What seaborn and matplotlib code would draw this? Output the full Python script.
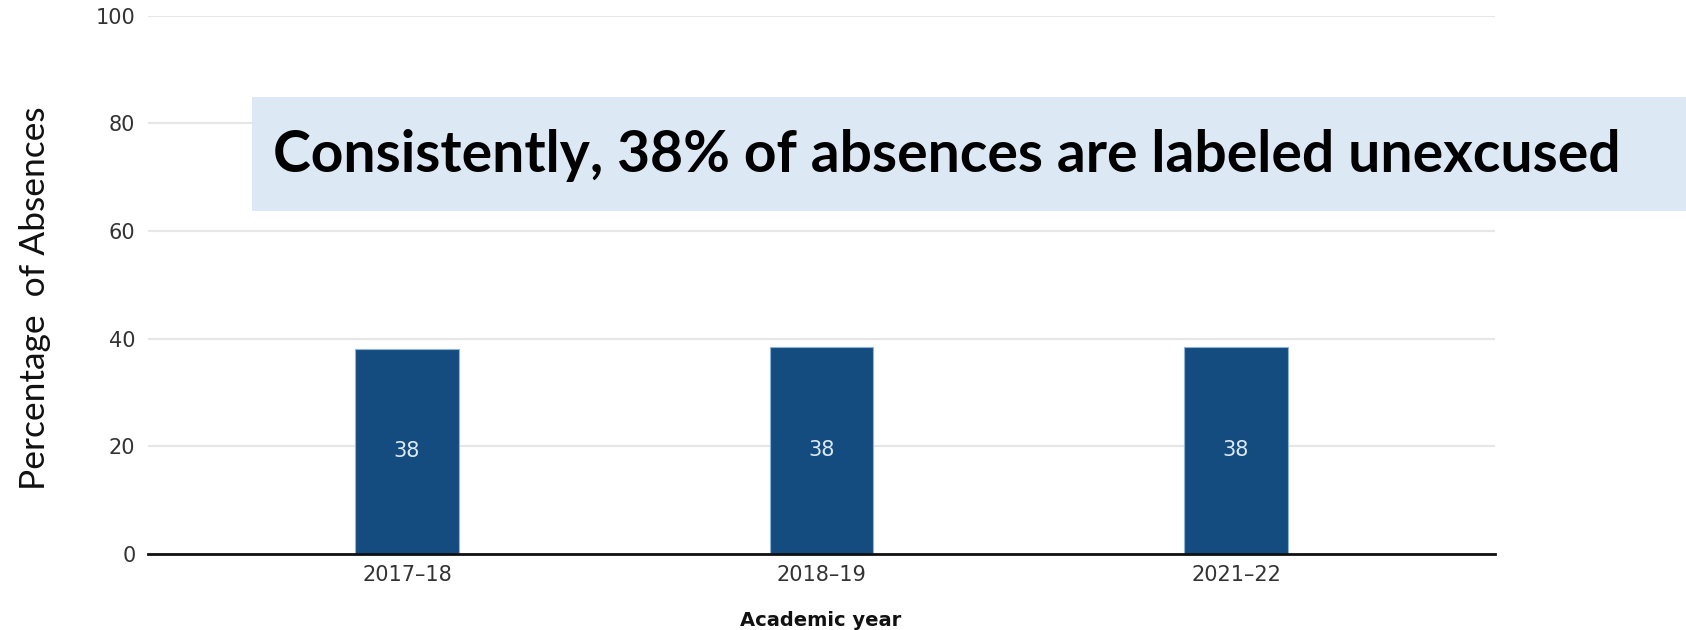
import matplotlib
matplotlib.use("Agg")
import matplotlib.pyplot as plt
import seaborn as sns
import pandas as pd
from matplotlib.patches import Rectangle

years = ["2017–18", "2018–19", "2021–22"]
values = [38.1, 38.5, 38.5]
value_labels = ["38", "38", "38"]
yticks = [0, 20, 40, 60, 80, 100]
title_text = "Consistently, 38% of absences are labeled unexcused"
ylabel_text = "Percentage  of Absences"
xlabel_text = "Academic year"

sns.set_theme(style="white")
plt.rcParams["font.family"] = ["DejaVu Sans"]

df = pd.DataFrame({"year": years, "value": values})

fig = plt.figure(figsize=(16.86, 6.30), dpi=100)
ax = fig.add_axes([148/1686, 1-554/630, (1495-148)/1686, (554-15.5)/630])

sns.barplot(data=df, x="year", y="value", color="#154c80", width=0.25,
            saturation=1, edgecolor="#8fb3d6", linewidth=0.8, ax=ax)

ax.set_ylim(0, 100)
ax.set_xlim(-0.625, 2.625)
ax.set_yticks(yticks)
ax.yaxis.grid(True, color="#e6e6e6", linewidth=1.5)
ax.set_axisbelow(True)
for s in ["top", "right", "left"]:
    ax.spines[s].set_visible(False)
ax.spines["bottom"].set_color("#111111")
ax.spines["bottom"].set_linewidth(2)
ax.tick_params(axis="both", length=0, labelsize=15, labelcolor="#333333")
ax.tick_params(axis="x", pad=8)
ax.tick_params(axis="y", pad=9)

ax.bar_label(ax.containers[0], labels=value_labels, label_type="center",
             color="#dce8f4", fontsize=15)

ax.set_xlabel(xlabel_text, fontsize=14, fontweight="bold", color="#111111")
ax.xaxis.set_label_coords(0.499, -0.123)
ax.xaxis.label.set_va("center")
ax.set_ylabel(ylabel_text, fontsize=25.5, family=["Lato", "DejaVu Sans"], color="#111111")
ax.yaxis.set_label_coords(-0.084, 0.475)
ax.yaxis.label.set_va("center")

fig.patches.append(Rectangle((252/1686, 1-211/630), 1-252/1686, 114/630,
                             transform=fig.transFigure, facecolor="#dce8f4",
                             edgecolor="none", zorder=5))
fig.text(273/1686, 1-155/630, title_text, fontsize=41, fontweight="bold",
         family=["Lato", "DejaVu Sans"], color="#000000", va="center", ha="left", zorder=6)

fig.savefig("out.png", dpi=100)
